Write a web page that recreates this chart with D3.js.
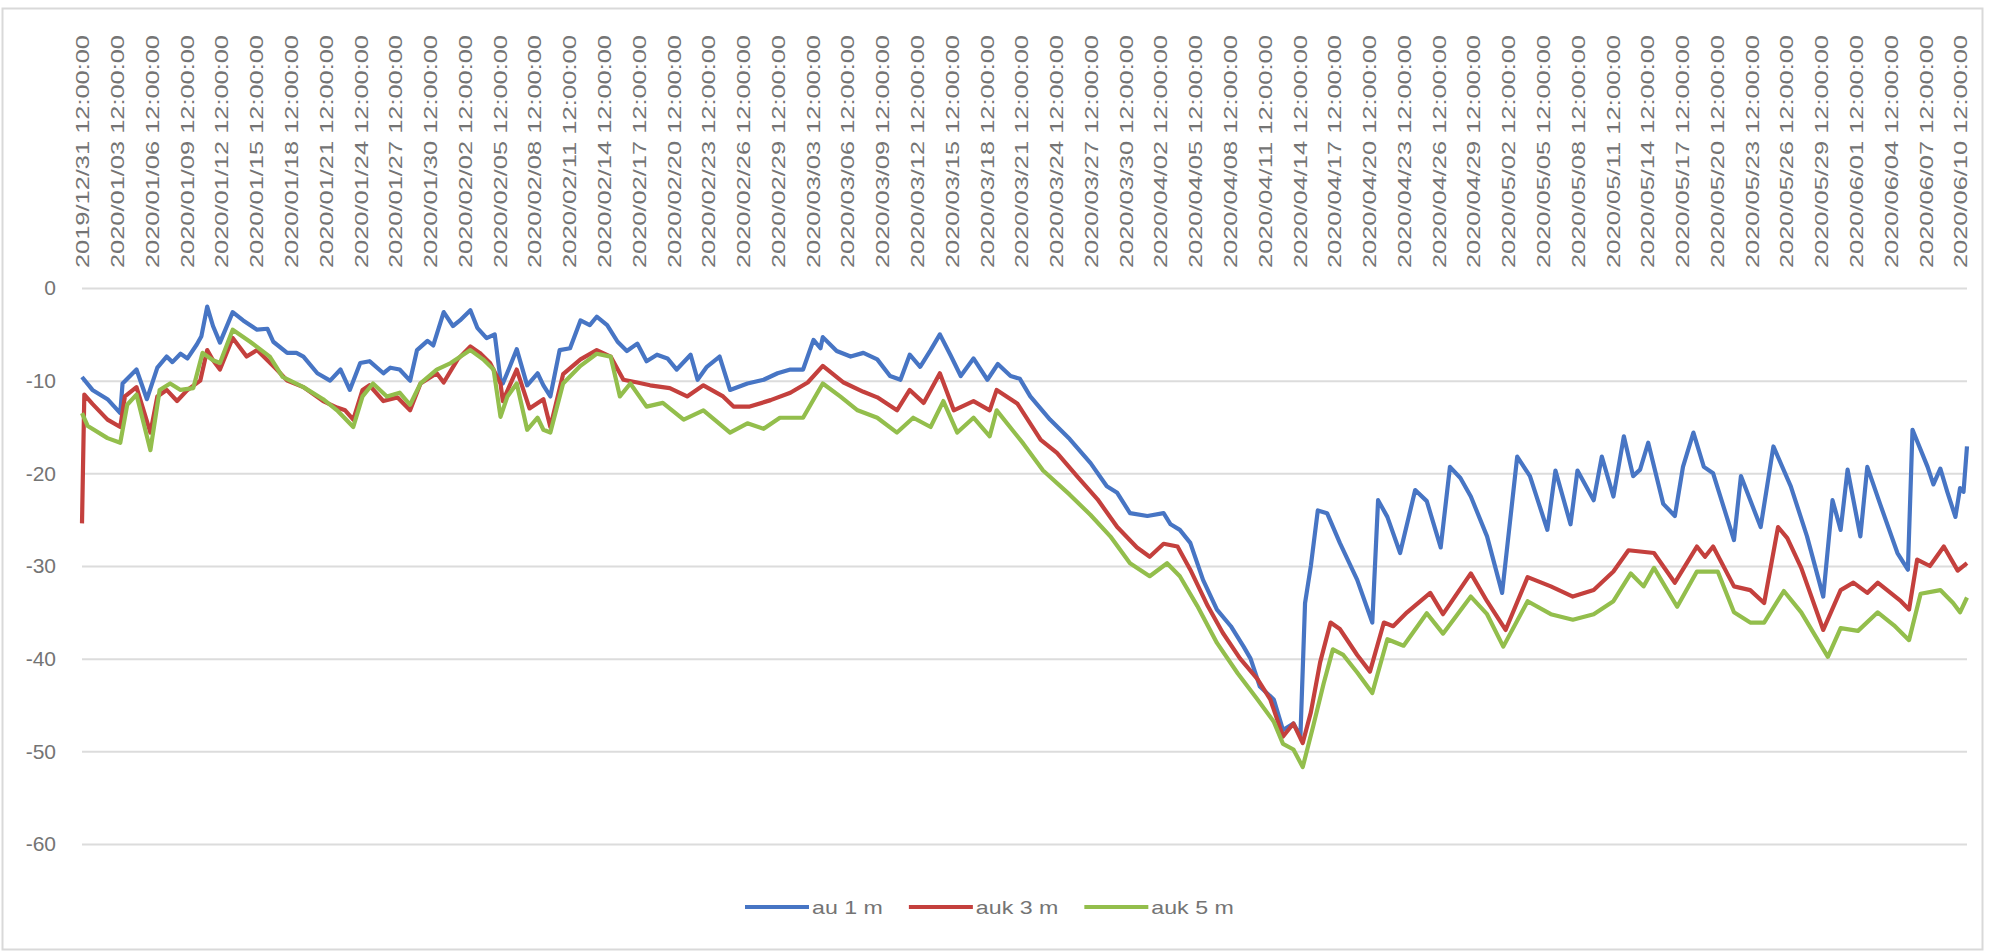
<!DOCTYPE html>
<html>
<head>
<meta charset="utf-8">
<script src="https://cdn.jsdelivr.net/npm/d3@7/dist/d3.min.js"></script>
<style>
  body { margin: 0; background: #fff; }
  svg text { font-family: "Liberation Sans", Arial, sans-serif; fill: #747474; }
</style>
</head>
<body>
<div id="chart"></div>
<script>
// category labels, one every 3 days (12:00)
var dateLabels = [
  "2019/12/31 12:00:00", "2020/01/03 12:00:00", "2020/01/06 12:00:00", "2020/01/09 12:00:00",
  "2020/01/12 12:00:00", "2020/01/15 12:00:00", "2020/01/18 12:00:00", "2020/01/21 12:00:00",
  "2020/01/24 12:00:00", "2020/01/27 12:00:00", "2020/01/30 12:00:00", "2020/02/02 12:00:00",
  "2020/02/05 12:00:00", "2020/02/08 12:00:00", "2020/02/11 12:00:00", "2020/02/14 12:00:00",
  "2020/02/17 12:00:00", "2020/02/20 12:00:00", "2020/02/23 12:00:00", "2020/02/26 12:00:00",
  "2020/02/29 12:00:00", "2020/03/03 12:00:00", "2020/03/06 12:00:00", "2020/03/09 12:00:00",
  "2020/03/12 12:00:00", "2020/03/15 12:00:00", "2020/03/18 12:00:00", "2020/03/21 12:00:00",
  "2020/03/24 12:00:00", "2020/03/27 12:00:00", "2020/03/30 12:00:00", "2020/04/02 12:00:00",
  "2020/04/05 12:00:00", "2020/04/08 12:00:00", "2020/04/11 12:00:00", "2020/04/14 12:00:00",
  "2020/04/17 12:00:00", "2020/04/20 12:00:00", "2020/04/23 12:00:00", "2020/04/26 12:00:00",
  "2020/04/29 12:00:00", "2020/05/02 12:00:00", "2020/05/05 12:00:00", "2020/05/08 12:00:00",
  "2020/05/11 12:00:00", "2020/05/14 12:00:00", "2020/05/17 12:00:00", "2020/05/20 12:00:00",
  "2020/05/23 12:00:00", "2020/05/26 12:00:00", "2020/05/29 12:00:00", "2020/06/01 12:00:00",
  "2020/06/04 12:00:00", "2020/06/07 12:00:00", "2020/06/10 12:00:00"
];
var labelStepDays = 3;
var lastDay = 162.6;

var yTicks = [0, -10, -20, -30, -40, -50, -60];

var seriesNames = ["au 1 m", "auk 3 m", "auk 5 m"];
var seriesColors = ["#4775c4", "#c4403d", "#93be4c"];

// [days since 2019/12/31 12:00, value]
var au1 = [
  [0, -9.6], [0.9, -11], [2.2, -12], [3.3, -13.5], [3.5, -10.3], [4.7, -8.8], [5.6, -12],
  [6.5, -8.6], [7.3, -7.4], [7.8, -8], [8.5, -7.1], [9.1, -7.6], [9.9, -6.1], [10.3, -5.2],
  [10.8, -2], [11.3, -4.1], [11.9, -5.9], [13, -2.6], [13.9, -3.5], [15.1, -4.5], [16, -4.4],
  [16.5, -5.8], [17.7, -7], [18.5, -7], [19.1, -7.4], [20.3, -9.2], [21.4, -10], [22.3, -8.8],
  [23.1, -11], [24, -8.1], [24.8, -7.9], [26, -9.2], [26.6, -8.6], [27.4, -8.8], [28.3, -10],
  [28.9, -6.7], [29.8, -5.7], [30.3, -6.2], [31.2, -2.6], [32, -4.1], [32.6, -3.5], [33.5, -2.4],
  [34.1, -4.3], [34.9, -5.4], [35.6, -5], [36.1, -9.9], [36.3, -10.3], [36.9, -8.5], [37.5, -6.6],
  [38.4, -10.5], [39.3, -9.2], [39.8, -10.5], [40.4, -11.7], [41.2, -6.7], [42.1, -6.5], [43, -3.5],
  [43.8, -4], [44.4, -3.1], [45.3, -4], [46.2, -5.8], [47, -6.8], [47.9, -6], [48.7, -7.9],
  [49.6, -7.2], [50.5, -7.6], [51.3, -8.8], [52.5, -7.2], [53.1, -9.9], [53.9, -8.5], [55, -7.4],
  [55.9, -11], [57.4, -10.3], [58.8, -9.9], [60, -9.2], [61.1, -8.8], [62.2, -8.8], [63.1, -5.6],
  [63.7, -6.5], [63.9, -5.3], [65.1, -6.8], [66.3, -7.4], [67.4, -7], [68.6, -7.7], [69.7, -9.5],
  [70.6, -9.9], [71.4, -7.2], [72.3, -8.5], [73.2, -6.7], [74, -5], [74.9, -7.2], [75.8, -9.5],
  [76.9, -7.6], [78.1, -9.9], [79, -8.2], [80.1, -9.5], [80.9, -9.8], [81.8, -11.7], [83.5, -14.2],
  [85.2, -16.3], [87, -18.9], [88.4, -21.4], [89.3, -22.1], [90.4, -24.3], [91.9, -24.6], [93.3, -24.3],
  [93.9, -25.5], [94.7, -26.1], [95.6, -27.5], [96.7, -31.5], [97.9, -34.7], [99.1, -36.5], [100.2, -38.7],
  [100.8, -40], [101.6, -43], [102.8, -44.4], [103.6, -47.7], [104.5, -47], [105.1, -48.4], [105.5, -34],
  [106, -30], [106.6, -24], [107.4, -24.3], [108.5, -27.5], [110, -31.5], [111.3, -36.1], [111.8, -22.9],
  [112.6, -24.7], [113.7, -28.6], [115, -21.8], [116, -23], [117.2, -28], [118, -19.3], [118.9, -20.5],
  [119.8, -22.5], [121.2, -26.8], [122.5, -32.9], [123.8, -18.2], [124.9, -20.3], [126.4, -26.1],
  [127.1, -19.7], [128.4, -25.5], [129, -19.7], [130.4, -22.9], [131.1, -18.2], [132.1, -22.5],
  [133, -16], [133.8, -20.3], [134.4, -19.6], [135.1, -16.7], [136.4, -23.3], [137.4, -24.6],
  [138.1, -19.3], [139, -15.6], [139.9, -19.3], [140.7, -20], [142.5, -27.2], [143.1, -20.3],
  [144.8, -25.8], [145.9, -17.1], [147.4, -21.4], [148.8, -26.8], [150.2, -33.3], [151, -22.9],
  [151.7, -26.1], [152.3, -19.6], [153.4, -26.8], [154, -19.3], [155.1, -23.3], [156.6, -28.6],
  [157.5, -30.4], [157.9, -15.3], [159.2, -19.3], [159.7, -21.2], [160.3, -19.5], [160.9, -22],
  [161.6, -24.7], [162, -21.6], [162.3, -22], [162.6, -17.1]
];

var auk3 = [
  [0, -25.4], [0.2, -11.5], [0.9, -12.5], [2.2, -14.2], [3.3, -15], [3.7, -11.7], [4.7, -10.7],
  [5.9, -15.6], [6.5, -11.7], [7.3, -11], [8.2, -12.2], [9.1, -11], [10.2, -10], [10.8, -6.7],
  [11.3, -7.8], [11.9, -8.8], [13, -5.4], [14.2, -7.4], [15.1, -6.7], [16.8, -8.8], [17.7, -10],
  [19.1, -10.7], [20.8, -12.2], [22, -12.9], [22.7, -13.2], [23.4, -14.2], [24.2, -11], [24.8, -10.5],
  [26, -12.2], [27.2, -11.8], [28.3, -13.2], [29.2, -10.3], [30.6, -9.2], [31.2, -10.2], [32.4, -7.7],
  [33.5, -6.3], [34.3, -7], [35.2, -8.1], [36.1, -10.3], [36.3, -12.2], [37.5, -8.8], [38.6, -13],
  [39.8, -12], [40.4, -15], [41.5, -9.3], [43, -7.7], [44.4, -6.7], [45.6, -7.4], [46.7, -9.9],
  [47.9, -10.2], [49, -10.5], [50.7, -10.8], [52.2, -11.7], [53.6, -10.5], [55.3, -11.7], [56.2, -12.8],
  [57.6, -12.8], [59.4, -12.1], [61.1, -11.3], [62.6, -10.2], [63.9, -8.4], [65.7, -10.2], [67.4, -11.2],
  [68.6, -11.8], [70.3, -13.2], [71.4, -11], [72.6, -12.4], [74, -9.2], [75.2, -13.2], [76.9, -12.2],
  [78.3, -13.2], [78.9, -11], [80.7, -12.5], [82.7, -16.4], [84.1, -17.8], [85.9, -20.4], [87.6, -22.8],
  [89.3, -25.8], [91, -28], [92.1, -29], [93.3, -27.6], [94.5, -27.9], [95.6, -30.4], [97.1, -34.3],
  [98.4, -37.2], [99.9, -40], [101.4, -42.2], [102.5, -44.4], [103.6, -48.4], [104.5, -47], [105.3, -49.1],
  [106, -45.8], [106.8, -40.4], [107.7, -36.1], [108.5, -36.8], [110, -39.6], [111.1, -41.4], [112.3, -36.1],
  [113.1, -36.5], [114.3, -35], [116.3, -32.9], [117.4, -35.2], [119.8, -30.8], [121.2, -33.8],
  [122.8, -36.9], [124.7, -31.2], [126.7, -32.2], [128.6, -33.3], [130.4, -32.6], [132.1, -30.6],
  [133.4, -28.3], [135.6, -28.6], [137.4, -31.8], [139.3, -27.9], [140, -29], [140.7, -27.9],
  [142.5, -32.2], [143.9, -32.6], [145.1, -34], [146.3, -25.8], [147.1, -27], [148.3, -30.2],
  [150.2, -36.9], [151.7, -32.6], [152.8, -31.8], [154, -32.9], [154.9, -31.8], [156.9, -33.8],
  [157.6, -34.7], [158.3, -29.3], [159.4, -30], [160.6, -27.9], [161.8, -30.5], [162.6, -29.7]
];

var auk5 = [
  [0, -13.5], [0.5, -14.9], [2.2, -16.2], [3.3, -16.7], [3.9, -12.6], [4.7, -11.5], [5.9, -17.5],
  [6.7, -11], [7.6, -10.3], [8.5, -11], [9.6, -10.8], [10.4, -7], [11.3, -7.8], [11.9, -8.1],
  [13, -4.5], [14.5, -5.8], [16.2, -7.4], [17.3, -9.6], [19.1, -10.7], [20.8, -12], [22, -13.2],
  [23.4, -15], [24.2, -11.7], [25.1, -10.3], [26.3, -11.7], [27.4, -11.3], [28.3, -12.6], [29.2, -10.3],
  [30.6, -8.8], [31.8, -8.1], [33.5, -6.7], [34.6, -7.7], [35.5, -8.8], [36.1, -13.9], [36.7, -11.7],
  [37.5, -10.3], [38.4, -15.3], [39.3, -14], [39.8, -15.3], [40.4, -15.6], [41.5, -10.3], [43, -8.4],
  [44.4, -7.1], [45.6, -7.4], [46.4, -11.7], [47.3, -10.3], [48.7, -12.8], [50.1, -12.4], [51.9, -14.2],
  [53.6, -13.2], [55.9, -15.6], [57.4, -14.6], [58.8, -15.2], [60.2, -14], [62.2, -14], [63.9, -10.3],
  [65.4, -11.7], [66.9, -13.2], [68.6, -14], [70.3, -15.6], [71.7, -14], [73.2, -15], [74.3, -12.2],
  [75.5, -15.6], [76.9, -14], [78.3, -16], [78.9, -13.2], [81.2, -16.8], [82.9, -19.7], [85.2, -22.3],
  [87, -24.5], [88.7, -26.8], [90.4, -29.7], [92.1, -31.1], [93.6, -29.7], [94.7, -31.1], [96.2, -34.3],
  [97.9, -38.3], [99.7, -41.6], [101.4, -44.4], [102.8, -46.8], [103.6, -49.2], [104.5, -49.8],
  [105.3, -51.7], [106.2, -47.3], [107.1, -42.7], [107.9, -39], [108.8, -39.6], [110, -41.5],
  [111.3, -43.7], [112.6, -37.9], [114, -38.6], [116, -35.1], [117.4, -37.3], [119.8, -33.3],
  [121.2, -35.2], [122.6, -38.7], [124.7, -33.8], [126.7, -35.2], [128.6, -35.8], [130.4, -35.2],
  [132.1, -33.8], [133.6, -30.8], [134.7, -32.2], [135.6, -30.2], [137.6, -34.4], [139.3, -30.6],
  [141.1, -30.6], [142.5, -35], [143.9, -36.1], [145.1, -36.1], [146.8, -32.7], [148.3, -35],
  [150.6, -39.8], [151.7, -36.7], [153.2, -37], [154.9, -35], [156.3, -36.4], [157.6, -38],
  [158.6, -33], [160.3, -32.6], [161.4, -34], [162, -35], [162.6, -33.4]
];

var allSeries = [au1, auk3, auk5];

(function() {
    var width = 1997,
        height = 952,
        left = 82,
        right = 1967,
        top = 288,
        bottom = 844;

    var svg = d3.select("#chart").append("svg")
        .attr("width", width)
        .attr("height", height);

    // chart area border
    svg.append("rect")
        .attr("x", 2.5).attr("y", 8.5)
        .attr("width", 1980).attr("height", 941)
        .attr("fill", "#fff")
        .attr("stroke", "#d9d9d9")
        .attr("stroke-width", 2);

    var x = d3.scaleLinear().domain([0, lastDay]).range([left, right]);
    var y = d3.scaleLinear().domain([0, -60]).range([top, bottom]);

    // y axis + gridlines (plain hyphen like the original)
    var yAxis = svg.append("g")
        .attr("transform", "translate(" + left + ",0)")
        .call(d3.axisLeft(y)
            .tickValues(yTicks)
            .tickSize(-(right - left))
            .tickPadding(26)
            .tickFormat(function(d) { return String(d); }));
    yAxis.select(".domain").remove();
    yAxis.selectAll(".tick line")
        .attr("stroke", "#dcdcdc")
        .attr("stroke-width", 2);
    yAxis.selectAll(".tick text")
        .style("font-size", "21px");

    // category labels along the top, rotated
    var xAxis = svg.append("g")
        .attr("transform", "translate(0,268)")
        .call(d3.axisTop(x)
            .tickValues(dateLabels.map(function(d, i) { return i * labelStepDays; }))
            .tickSize(0)
            .tickFormat(function(d, i) { return dateLabels[i]; }));
    xAxis.select(".domain").remove();
    xAxis.selectAll(".tick text")
        .attr("transform", "rotate(-90)")
        .attr("x", 0)
        .attr("y", 0)
        .attr("dy", "0.36em")
        .attr("textLength", 233)
        .attr("lengthAdjust", "spacingAndGlyphs")
        .style("text-anchor", "start")
        .style("font-size", "19px");

    var line = d3.line()
        .x(function(d) { return x(d[0]); })
        .y(function(d) { return y(d[1]); });

    // series order as in the sheet: 5 m ends up on top
    svg.selectAll(".series")
        .data(allSeries)
        .enter()
        .append("path")
        .attr("class", "series")
        .attr("d", line)
        .attr("fill", "none")
        .attr("stroke", function(d, i) { return seriesColors[i]; })
        .attr("stroke-width", 4.2)
        .attr("stroke-linejoin", "round");

    // legend
    var legend = svg.append("g").attr("transform", "translate(745,907)");
    var lx = 0;
    seriesNames.forEach(function(name, i) {
        var item = legend.append("g").attr("transform", "translate(" + lx + ",0)");
        item.append("line")
            .attr("x1", 0).attr("x2", 64)
            .attr("y1", 0).attr("y2", 0)
            .attr("stroke", seriesColors[i])
            .attr("stroke-width", 4.2);
        var t = item.append("text")
            .attr("x", 67)
            .attr("dy", "0.35em")
            .style("font-size", "19px")
            .text(name);
        var w = t.node().getComputedTextLength() * 1.22;
        t.attr("textLength", w).attr("lengthAdjust", "spacingAndGlyphs");
        lx += 67 + w + 26;
    });
})();
</script>
</body>
</html>
